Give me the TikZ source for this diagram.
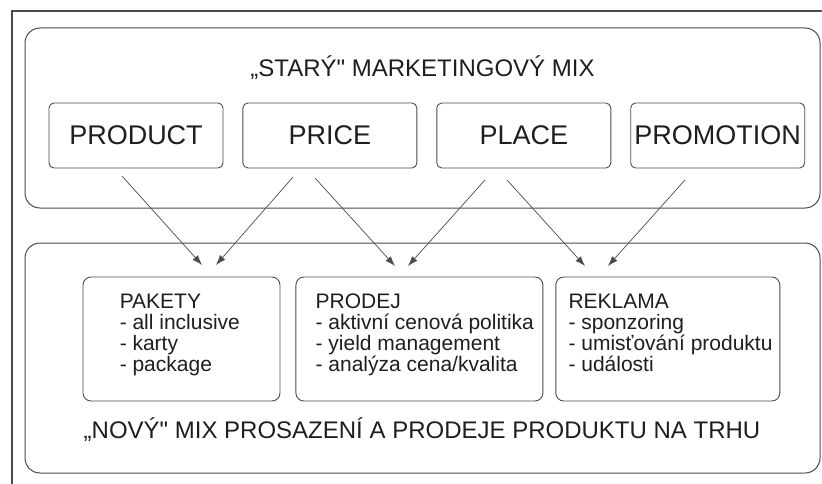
\documentclass[tikz,border=0pt]{standalone}
\usepackage{fontspec}
\setmainfont{Liberation Sans}[Ligatures=TeXOff]
\usetikzlibrary{arrows.meta,positioning}
\definecolor{mixline}{RGB}{75,75,75}
\definecolor{mixtext}{RGB}{30,30,30}

\begin{document}
\begin{tikzpicture}[x=1pt,y=-1pt,text=mixtext,
    bigbox/.style={draw=mixline,line width=1pt,rounded corners=15pt,minimum width=795pt},
    mixbox/.style={draw=mixline,line width=.9pt,rounded corners=5pt,minimum width=174pt,minimum height=65pt,inner sep=0pt,font=\fontsize{27}{30}\selectfont},
    subbox/.style={draw=mixline,line width=.9pt,rounded corners=8pt,minimum height=124pt,inner sep=0pt},
    subtext/.style={inner sep=0pt,align=left,font=\fontsize{21}{21}\selectfont},
    title/.style={inner sep=0pt,anchor=base,font=\fontsize{24}{28}\selectfont},
    arr/.style={draw=mixline,-{Latex[length=10pt,width=7pt]},line width=.7pt}]
    \useasboundingbox (0,0) rectangle (822,484);
    \draw[mixline,line width=1.3pt] (12,484)--(12,11)--(822,11);
    % old mix
    \node[bigbox,minimum height=180pt] (oldmix) at (422.5,118) {};
    \node[title] (oldtitle) at (422.5,77) {„STARÝ" MARKETINGOVÝ MIX};
    \node[mixbox] (product) at (136,135.5) {PRODUCT};
    \node[mixbox,right=19pt of product] (price) {PRICE};
    \node[mixbox,right=19pt of price] (place) {PLACE};
    \node[mixbox,right=19pt of place] (promotion) {PROMOTION};
    % new mix
    \node[bigbox,minimum height=230pt] (newmix) at (422.5,358) {};
    \node[title] (newtitle) at (422,438) {„NOVÝ" MIX PROSAZENÍ A PRODEJE PRODUKTU NA TRHU};
    \node[subbox,minimum width=197pt] (pakety) at (181.5,339) {};
    \node[subbox,minimum width=247pt,right=15pt of pakety] (prodej) {};
    \node[subbox,minimum width=224pt,right=12pt of prodej] (reklama) {};
    \node[subtext,below right=17pt and 37pt of pakety.north west] (paketytext)
      {PAKETY\\- all inclusive\\- karty\\- package};
    \node[subtext,below right=17pt and 20pt of prodej.north west] (prodejtext)
      {PRODEJ\\- aktivní cenová politika\\- yield management\\- analýza cena/kvalita};
    \node[subtext,below right=17pt and 13pt of reklama.north west] (reklamatext)
      {REKLAMA\\- sponzoring\\- umisťování produktu\\- události};
    % arrows
    \coordinate (productout) at (122,176);
    \coordinate (priceoutl) at (293,177);
    \coordinate (priceoutr) at (315,178);
    \coordinate (placeoutl) at (485,180);
    \coordinate (placeoutr) at (507,180);
    \coordinate (promotionout) at (685,180);
    \coordinate (paketyinl) at (202,265);
    \coordinate (paketyinr) at (216,265);
    \coordinate (prodejinl) at (395,266);
    \coordinate (prodejinr) at (408,266);
    \coordinate (reklamainl) at (585,266);
    \coordinate (reklamainr) at (608,266);
    \foreach \s/\t in {productout/paketyinl,priceoutl/paketyinr,priceoutr/prodejinl,
      placeoutl/prodejinr,placeoutr/reklamainl,promotionout/reklamainr}
      {\draw[arr] (\s)--(\t);}
  \end{tikzpicture}
\end{document}
